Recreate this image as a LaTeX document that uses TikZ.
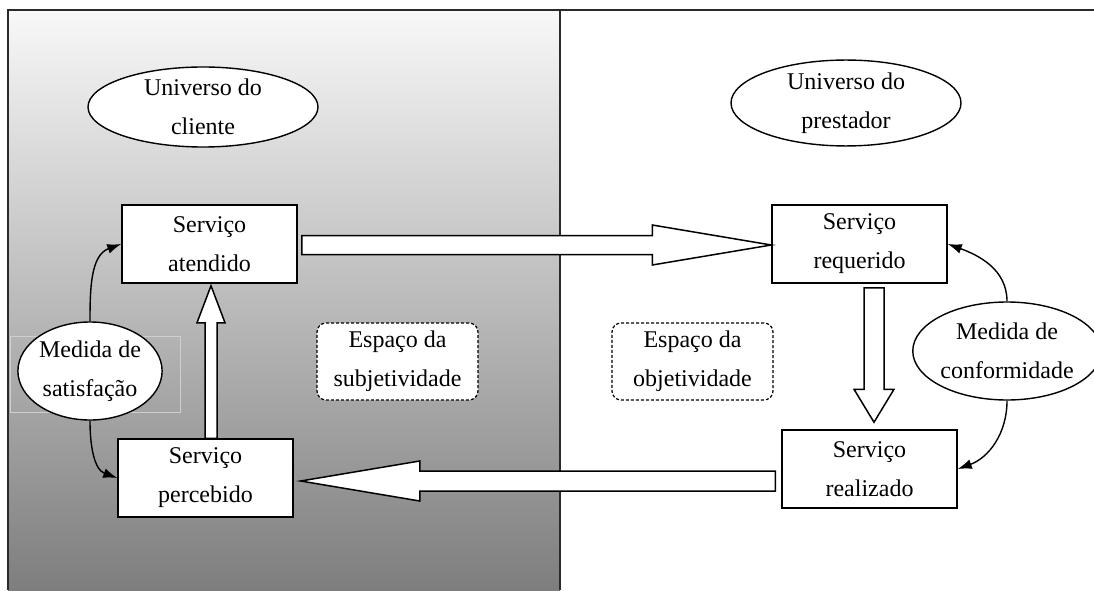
\documentclass[tikz,border=0pt]{standalone}
\usepackage{fontspec}
\setmainfont{Liberation Serif}
\usepackage{tikz}
\usetikzlibrary{positioning, calc, arrows.meta, shapes.geometric}
\definecolor{PanelTop}{HTML}{F8F8F8}
\definecolor{PanelBot}{HTML}{7E7E7E}
\definecolor{FrameGray}{HTML}{2A2A2A}
\definecolor{FaintGray}{HTML}{CFCFCF}

% fat hollow arrow: from, to, shaft half width, head half width, head length
\newcommand{\fatarrow}[5]{%
  \draw[fatline] let \p1=(#1), \p2=(#2), \n1={atan2(\y2-\y1,\x2-\x1)} in
    ($(\p1)+(\n1+90:#3)$) -- ($(\p2)+(\n1:-#5)+(\n1+90:#3)$) -- ($(\p2)+(\n1:-#5)+(\n1+90:#4)$)
    -- (\p2) -- ($(\p2)+(\n1:-#5)+(\n1-90:#4)$) -- ($(\p2)+(\n1:-#5)+(\n1-90:#3)$)
    -- ($(\p1)+(\n1-90:#3)$) -- cycle;}

\tikzset{
  txt/.style={font=\fontsize{24}{39}\selectfont, align=center, text=black},
  svcbox/.style={txt, draw, fill=white, line width=1.5pt, minimum width=175, minimum height=78, inner sep=0pt},
  univ/.style={txt, ellipse, draw, fill=white, line width=1.4pt, minimum width=230, minimum height=80, inner sep=0pt},
  measure/.style={txt, ellipse, draw, fill=white, line width=1.4pt, minimum height=98, inner sep=0pt},
  space/.style={txt, draw, fill=white, densely dashed, rounded corners=9pt, line width=1.2pt, minimum width=161, minimum height=77, inner sep=0pt},
  fatline/.style={draw=black, fill=white, line width=1.5pt, line join=miter},
  loopline/.style={-{Latex[length=14pt,width=10pt]}, line width=1.4pt}
}

\begin{document}
\begin{tikzpicture}[x=1pt,y=1pt]
  \useasboundingbox (0,0) rectangle (1094,590);
  \fill[white] (0,0) rectangle (1094,590);
  % client side, shaded
  \shade[top color=PanelTop, bottom color=PanelBot] (8,0) rectangle (560,580);
  \draw[FrameGray, line width=1.6pt] (8,0) -- (8,580) -- (1094,580);
  \draw[FrameGray, line width=1.4pt] (560,0) -- (560,580);
  \draw[FaintGray, line width=0.6pt] (10,178) rectangle (180,254);

  \node[univ] (cli) at (203,483) {Universo do\\cliente};
  \node[univ] (pre) at (846,487) {Universo do\\prestador};

  \node[svcbox] (atd) at (209.5,346) {Serviço\\atendido};
  \node[svcbox] (per) at (205.5,112) {Serviço\\percebido};
  \node[svcbox] (req) at (859.5,346) {Serviço\\requerido};
  \node[svcbox] (rea) at (869.5,121) {Serviço\\realizado};

  \node[measure, minimum width=136] (sat) at (90,219) {Medida de\\satisfação};
  \node[measure, minimum width=149] (conf) at (1007,239) {Medida de\\conformidade};

  \node[space] (subj) at (397.5,228.5) {Espaço da\\subjetividade};
  \node[space] (obj) at (692.5,228.5) {Espaço da\\objetividade};

  \fatarrow{$(atd.east)+(4,-1)$}{$(req.west)+(0,-1)$}{9.5}{20}{119}
  \fatarrow{$(req.south)+(14.5,-4)$}{$(rea.north)+(4.5,7)$}{10}{20}{33}
  \fatarrow{$(rea.west)+(-6,-12)$}{$(per.east)+(7,-3)$}{10}{20}{119}
  \fatarrow{$(per.north)+(5.5,0)$}{$(atd.south)+(1.5,-2)$}{6}{14}{37}

  \draw[loopline] (sat.north) to[out=90, in=200] (atd.west);
  \draw[loopline] (sat.south) to[out=-90, in=160] (per.west);
  \draw[loopline] (conf.north) to[out=90, in=-20] (req.east);
  \draw[loopline] (conf.south) to[out=-90, in=20] (rea.east);
\end{tikzpicture}
\end{document}
